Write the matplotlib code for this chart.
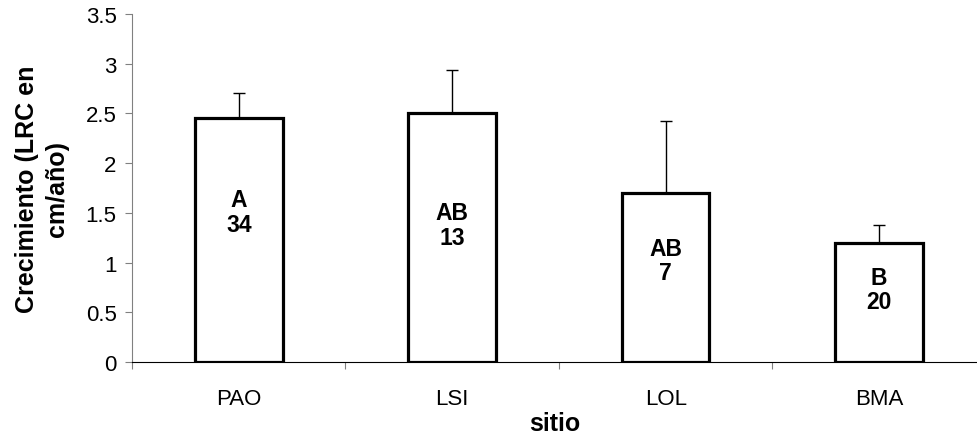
import numpy as np
import matplotlib.pyplot as plt

# Data
sitios = ["PAO", "LSI", "LOL", "BMA"]
crecimiento = [2.45, 2.50, 1.70, 1.20]        # cm/año
error_sup = [0.26, 0.44, 0.72, 0.18]
grupo = ["A", "AB", "AB", "B"]
n = ["34", "13", "7", "20"]

# Layout of the in-bar labels (y in data units)
label_y = [1.51, 1.38, 1.02, 0.73]

plt.rcParams['font.family'] = ['Liberation Sans', 'DejaVu Sans']

fig = plt.figure(figsize=(9.77, 4.39), dpi=100)
ax = fig.add_axes([0.1351, 0.1731, 0.8649, 0.7927])

x = np.arange(len(sitios))
ax.bar(x, crecimiento, width=0.41, color="white", edgecolor="black", linewidth=2.3, zorder=3)
ax.errorbar(x, crecimiento, yerr=[np.zeros(len(x)), error_sup], fmt="none",
            ecolor="black", elinewidth=1.0, capsize=4, capthick=1.0, zorder=2)

for xi, g, ni, yi in zip(x, grupo, n, label_y):
    ax.text(xi, yi, g + "\n" + ni, ha="center", va="center", fontsize=16.5,
            fontweight="bold", linespacing=1.1, zorder=4)

ax.set_xlim(-0.5, 3.458)
ax.set_ylim(0, 3.5)
ax.set_yticks(np.arange(0, 3.51, 0.5))
ax.set_yticklabels(["0", "0.5", "1", "1.5", "2", "2.5", "3", "3.5"])
ax.set_xticks([-0.5, 0.5, 1.5, 2.5])
ax.set_xticklabels([])
ax.set_xticks(x, minor=True)
ax.set_xticklabels(sitios, minor=True)
ax.tick_params(axis="x", which="minor", length=0, pad=19, labelsize=16)
ax.tick_params(axis="x", which="major", direction="out", length=5, color="#808080")
ax.tick_params(axis="y", direction="out", length=5, color="#808080", labelsize=16, pad=6)

ax.spines["top"].set_visible(False)
ax.spines["right"].set_visible(False)
ax.spines["left"].set_color("#808080")
ax.spines["bottom"].set_color("black")

ax.set_xlabel("sitio", fontsize=18, fontweight="bold", labelpad=1)
ax.set_ylabel("Crecimiento (LRC en\ncm/año)", fontsize=18, fontweight="bold",
              linespacing=1.3, labelpad=12)

fig.savefig("out.png", dpi=100)
